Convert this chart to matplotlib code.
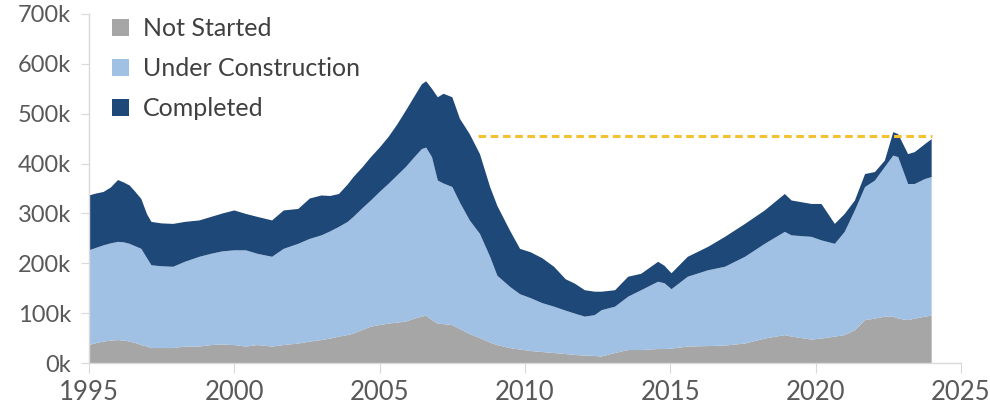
import matplotlib
matplotlib.use("Agg")
import matplotlib.pyplot as plt
from matplotlib.patches import Patch
import numpy as np

plt.rcParams['font.family'] = ['Lato', 'DejaVu Sans']

# Year (decimal) of each reading
years = [1995.0, 1995.25, 1995.5, 1995.75, 1996.0, 1996.2, 1996.4, 1996.6, 1996.8,
         1997.0, 1997.15, 1997.5, 1997.9, 1998.3, 1998.8, 1999.2, 1999.6, 2000.0,
         2000.4, 2000.8, 2001.3, 2001.7, 2002.2, 2002.6, 2003.0, 2003.3, 2003.6,
         2003.9, 2004.1, 2004.4, 2004.7, 2005.0, 2005.3, 2005.6, 2005.9, 2006.2,
         2006.45, 2006.6, 2006.8, 2007.0, 2007.2, 2007.5, 2007.76, 2008.1, 2008.45,
         2008.8, 2009.05, 2009.48, 2009.83, 2010.2, 2010.6, 2011.0, 2011.4, 2011.72,
         2012.06, 2012.4, 2012.64, 2013.1, 2013.55, 2014.0, 2014.58, 2014.8, 2015.04,
         2015.6, 2016.3, 2016.88, 2017.57, 2018.25, 2018.94, 2019.17, 2019.86, 2020.2,
         2020.66, 2021.0, 2021.35, 2021.7, 2022.04, 2022.38, 2022.67, 2022.84, 2023.18,
         2023.41, 2023.76, 2023.99]

# Not started (thousands)
not_started = [36, 40, 43, 45, 46, 45, 43, 40, 36,
               33, 30, 30, 30, 33, 33, 36, 37, 36,
               33, 36, 33, 36, 39, 43, 46, 49, 53,
               56, 59, 66, 73, 76, 79, 81, 83, 89,
               93, 95, 86, 79, 78, 76, 68, 58, 50,
               41, 36, 30, 27, 24, 22, 20, 18, 16,
               15, 14, 13, 20, 26, 26, 28, 28, 29,
               33, 34, 35, 39, 49, 56, 53, 47, 49,
               53, 56, 66, 86, 89, 93, 93, 89, 86,
               89, 93, 95]

# Under construction (thousands)
under_construction = [190, 191, 193, 195, 197, 197, 196, 194, 193,
                      177, 166, 164, 163, 170, 180, 183, 187, 190,
                      193, 183, 180, 193, 200, 206, 210, 215, 220,
                      227, 234, 244, 253, 267, 280, 295, 310, 324,
                      336, 337, 327, 287, 282, 277, 254, 228, 209,
                      172, 139, 123, 111, 106, 98, 93, 87, 83,
                      78, 82, 93, 93, 107, 120, 135, 132, 119,
                      140, 152, 158, 174, 190, 207, 203, 206, 197,
                      186, 207, 240, 267, 277, 300, 323, 324, 273,
                      270, 276, 278]

# Completed (thousands)
completed = [110, 109, 107, 112, 124, 120, 117, 109, 100,
             88, 87, 86, 86, 80, 73, 74, 76, 80,
             73, 74, 73, 77, 70, 81, 80, 71, 66,
             75, 80, 82, 87, 89, 94, 102, 113, 122,
             130, 133, 137, 167, 180, 180, 168, 173, 160,
             140, 140, 113, 91, 92, 90, 80, 63, 60,
             53, 47, 37, 33, 40, 33, 40, 35, 32,
             40, 47, 60, 66, 67, 76, 70, 66, 73,
             40, 36, 20, 26, 17, 13, 47, 46, 60,
             64, 70, 76]

reference_level = 455          # dashed line level (thousands)
reference_span = (2008.4, 2024.0)

labels = ["Not Started", "Under Construction", "Completed"]
colors = ["#A6A6A6", "#A0C0E4", "#1E4878"]

y_ticks = [0, 100, 200, 300, 400, 500, 600, 700]
y_ticklabels = ["0k", "100k", "200k", "300k", "400k", "500k", "600k", "700k"]
x_ticks = [1995, 2000, 2005, 2010, 2015, 2020, 2025]

fig = plt.figure(figsize=(9.9, 4.13), dpi=100)
ax = fig.add_axes([89/990, 50/413, (961-89)/990, (399-50)/413])

ax.stackplot(years, not_started, under_construction, completed,
             colors=colors, linewidth=0)
ax.hlines(reference_level, reference_span[0], reference_span[1],
          colors="#F2C233", linestyles=(0, (2.5, 1.5)), linewidth=2.2)

ax.set_xlim(1995, 2025)
ax.set_ylim(0, 700)
ax.set_xticks(x_ticks)
ax.set_xticklabels([str(t) for t in x_ticks])
ax.set_yticks(y_ticks)
ax.set_yticklabels(y_ticklabels)

for s in ["top", "right"]:
    ax.spines[s].set_visible(False)
for s in ["left", "bottom"]:
    ax.spines[s].set_color("#D9D9D9")
    ax.spines[s].set_linewidth(1.0)

ax.tick_params(axis="y", colors="#D9D9D9", labelcolor="#595959",
               labelsize=17, length=6, pad=7)
ax.tick_params(axis="x", colors="#D9D9D9", labelcolor="#595959",
               labelsize=18.5, length=7, pad=5)

handles = [Patch(facecolor=c, edgecolor="none") for c in colors]
leg = ax.legend(handles, labels, loc="upper left", bbox_to_anchor=(0.0, 1.055),
                frameon=False, fontsize=18, handlelength=0.7, handleheight=0.7,
                handletextpad=0.55, labelspacing=0.68)
for t in leg.get_texts():
    t.set_color("#404040")

fig.savefig("out.png", dpi=100)
